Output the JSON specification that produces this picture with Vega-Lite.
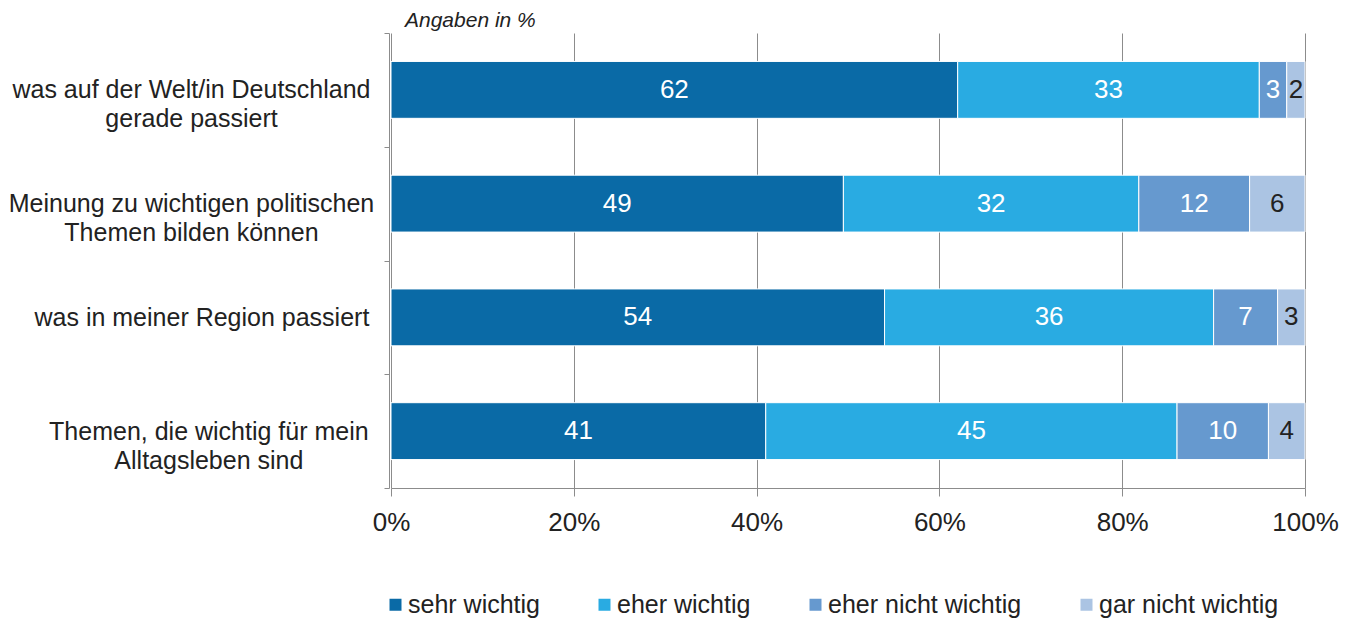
{
  "$schema": "https://vega.github.io/schema/vega-lite/v6.json",
  "width": 914,
  "height": 455,
  "autosize": {"type": "none"},
  "padding": {"left": 391, "top": 33, "right": 51, "bottom": 130},
  "title": {
    "text": "Angaben in %",
    "anchor": "start",
    "frame": "group",
    "fontStyle": "italic",
    "fontWeight": "normal",
    "fontSize": 21,
    "color": "#222222",
    "font": "Liberation Sans",
    "dx": 14,
    "offset": -10
  },
  "data": {
    "values": [
      {"item": "was auf der Welt/in Deutschland\ngerade passiert", "resp": "sehr wichtig", "value": 62},
      {"item": "was auf der Welt/in Deutschland\ngerade passiert", "resp": "eher wichtig", "value": 33},
      {"item": "was auf der Welt/in Deutschland\ngerade passiert", "resp": "eher nicht wichtig", "value": 3},
      {"item": "was auf der Welt/in Deutschland\ngerade passiert", "resp": "gar nicht wichtig", "value": 2},
      {"item": "Meinung zu wichtigen politischen\nThemen bilden können", "resp": "sehr wichtig", "value": 49},
      {"item": "Meinung zu wichtigen politischen\nThemen bilden können", "resp": "eher wichtig", "value": 32},
      {"item": "Meinung zu wichtigen politischen\nThemen bilden können", "resp": "eher nicht wichtig", "value": 12},
      {"item": "Meinung zu wichtigen politischen\nThemen bilden können", "resp": "gar nicht wichtig", "value": 6},
      {"item": "was in meiner Region passiert", "resp": "sehr wichtig", "value": 54},
      {"item": "was in meiner Region passiert", "resp": "eher wichtig", "value": 36},
      {"item": "was in meiner Region passiert", "resp": "eher nicht wichtig", "value": 7},
      {"item": "was in meiner Region passiert", "resp": "gar nicht wichtig", "value": 3},
      {"item": "Themen, die wichtig für mein\nAlltagsleben sind", "resp": "sehr wichtig", "value": 41},
      {"item": "Themen, die wichtig für mein\nAlltagsleben sind", "resp": "eher wichtig", "value": 45},
      {"item": "Themen, die wichtig für mein\nAlltagsleben sind", "resp": "eher nicht wichtig", "value": 10},
      {"item": "Themen, die wichtig für mein\nAlltagsleben sind", "resp": "gar nicht wichtig", "value": 4}
    ]
  },
  "transform": [
    {"calculate": "indexof(['sehr wichtig','eher wichtig','eher nicht wichtig','gar nicht wichtig'], datum.resp)", "as": "ord"},
    {"stack": "value", "groupby": ["item"], "sort": [{"field": "ord", "order": "ascending"}], "offset": "normalize", "as": ["v0", "v1"]},
    {"calculate": "(datum.v0 + datum.v1) / 2", "as": "vm"}
  ],
  "encoding": {
    "y": {
      "field": "item",
      "type": "nominal",
      "sort": null,
      "title": null,
      "scale": {"paddingInner": 0, "paddingOuter": 0},
      "axis": {
        "labelExpr": "indexof(datum.label, 'Region') >= 0 ? ['\u200b\u00a0\u00a0\u00a0' + datum.label] : indexof(datum.label, 'Alltagsleben') >= 0 ? ['\u200b\u00a0\u00a0\u00a0\u00a0\u00a0Themen, die wichtig für mein', '\u200b\u00a0\u00a0\u00a0\u00a0\u00a0Alltagsleben sind'] : split(datum.label, '\\n')",
        "labelAlign": "center",
        "labelBaseline": "middle",
        "labelFontSize": 25,
        "labelLineHeight": 29,
        "labelLimit": 500,
        "labelColor": "#222222",
        "labelPadding": 193,
        "tickBand": "extent",
        "tickSize": 5,
        "tickColor": "#8c8c8c",
        "domainColor": "#8c8c8c",
        "offset": 2,
        "grid": false
      }
    }
  },
  "layer": [
    {
      "mark": {"type": "bar", "stroke": "white", "strokeWidth": 1, "height": {"band": 0.5}},
      "encoding": {
        "x": {
          "field": "v0",
          "type": "quantitative",
          "title": null,
          "scale": {"domain": [0, 1], "nice": false},
          "axis": {
            "values": [0, 0.2, 0.4, 0.6, 0.8, 1],
            "format": "%",
            "grid": true,
            "gridColor": "#8c8c8c",
            "gridWidth": 1,
            "domainColor": "#8c8c8c",
            "tickColor": "#8c8c8c",
            "tickSize": 8,
            "labelFontSize": 26,
            "labelColor": "#222222",
            "labelPadding": 13,
            "labelFlush": false
          }
        },
        "x2": {"field": "v1"},
        "color": {
          "field": "resp",
          "type": "nominal",
          "scale": {
            "domain": ["sehr wichtig", "eher wichtig", "eher nicht wichtig", "gar nicht wichtig"],
            "range": ["#0a6aa6", "#29abe2", "#6699cf", "#abc4e3"]
          },
          "legend": {
            "title": null,
            "orient": "none",
            "legendX": -8,
            "legendY": 559,
            "direction": "horizontal",
            "columns": 4,
            "symbolType": "square",
            "symbolSize": 144,
            "symbolStrokeWidth": 0,
            "labelFontSize": 25,
            "labelColor": "#222222",
            "labelOffset": 0,
            "labelLimit": 400,
            "columnPadding": 52
          }
        }
      }
    },
    {
      "mark": {"type": "text", "fontSize": 26, "align": "center", "baseline": "middle"},
      "encoding": {
        "x": {"field": "vm", "type": "quantitative"},
        "text": {"field": "value", "type": "quantitative"},
        "color": {
          "condition": {"test": "datum.resp == 'gar nicht wichtig'", "value": "#222222"},
          "value": "white"
        }
      }
    }
  ],
  "config": {
    "font": "Liberation Sans",
    "view": {"stroke": null}
  }
}
